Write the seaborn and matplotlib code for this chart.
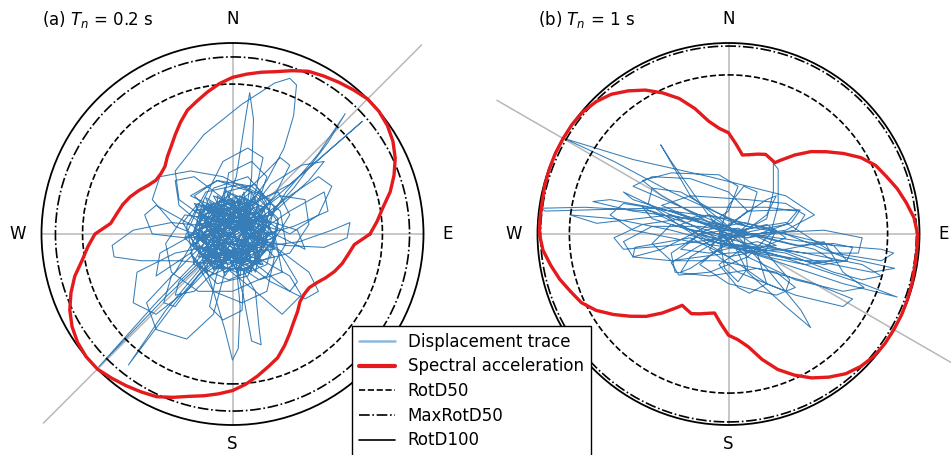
import numpy as np
import matplotlib
matplotlib.use("Agg")
import matplotlib.pyplot as plt
import seaborn as sns
from matplotlib.lines import Line2D
from matplotlib.patches import Circle

# spectral acceleration vs. rotation angle (deg from East, CCW), normalised by RotD100
# Sa(theta + 180) = Sa(theta), so only half a turn is listed
ang_a = [0, 5, 10, 15, 20, 25, 30, 35, 40, 45, 50, 55, 60, 65, 70, 75, 80, 85, 90, 95, 100, 105,
         110, 115, 120, 125, 130, 135, 140, 145, 150, 155, 160, 165, 170, 175]
sa_a = [0.72, 0.76, 0.80, 0.855, 0.90, 0.94, 0.97, 0.99, 1.00, 1.00, 0.985, 0.97, 0.955, 0.94,
        0.91, 0.88, 0.86, 0.84, 0.82, 0.79, 0.755, 0.72, 0.69, 0.645, 0.60, 0.56, 0.53, 0.50,
        0.49, 0.49, 0.51, 0.54, 0.57, 0.595, 0.615, 0.64]
ang_b = [0, 5, 10, 15, 20, 25, 30, 35, 40, 45, 50, 55, 57, 60, 65, 70, 75, 80, 85, 90, 95, 100,
         105, 110, 115, 120, 125, 130, 135, 140, 145, 150, 155, 160, 165, 170, 175]
sa_b = [0.99, 0.975, 0.945, 0.915, 0.88, 0.85, 0.80, 0.735, 0.67, 0.61, 0.54, 0.47, 0.445, 0.45,
        0.46, 0.445, 0.43, 0.42, 0.47, 0.53, 0.555, 0.60, 0.68, 0.755, 0.815, 0.87, 0.915, 0.955,
        0.98, 0.995, 1.0, 1.0, 1.0, 0.998, 0.995, 0.99, 0.99]

rotd50 = [0.785, 0.833]
maxrotd50 = [0.927, 0.984]
rotd100 = [1.0, 1.0]
theta100 = [45, 150]
titulos = ["(a) $T_n$ = 0.2 s", "(b) $T_n$ = 1 s"]

# displacement traces (normalised)
trace_a = [
    (0.00, 0.00), (0.15, 0.10), (0.18, -0.05), (0.05, -0.16), (-0.12, -0.10), (-0.18, 0.06), (-0.06, 0.18),
    (0.10, 0.15), (0.20, 0.02), (0.12, -0.14), (-0.04, -0.20), (-0.19, -0.08), (-0.16, 0.12), (0.00, 0.21),
    (0.16, 0.14), (0.22, -0.04), (0.08, -0.19), (-0.10, -0.17), (-0.21, 0.00), (-0.10, 0.16), (0.06, 0.12),
    (0.14, -0.02), (0.02, -0.10), (-0.08, 0.02), (0.00, 0.10),
    (0.30, 0.26), (0.68, 0.59), (0.35, 0.30), (0.00, 0.00), (-0.35, -0.33), (-0.70, -0.695), (-0.40, -0.36),
    (-0.10, -0.05),
    (0.12, 0.20), (0.24, 0.08), (0.18, -0.16), (-0.02, -0.24), (-0.20, -0.16), (-0.24, 0.04), (-0.14, 0.22),
    (0.04, 0.26), (0.20, 0.18), (0.10, 0.02),
    (-0.10, 0.05), (-0.28, 0.18), (-0.30, 0.33), (-0.15, 0.52), (0.05, 0.68), (0.22, 0.79), (0.30, 0.815),
    (0.335, 0.78), (0.32, 0.62), (0.27, 0.45), (0.18, 0.28), (0.05, 0.10),
    (-0.06, -0.06), (-0.14, 0.08), (-0.02, 0.14), (0.10, 0.06), (0.04, -0.06), (-0.10, -0.02),
    (0.02, 0.30), (0.07, 0.62), (0.09, 0.74), (0.11, 0.60), (0.10, 0.30), (0.06, 0.05),
    (-0.15, -0.12), (-0.25, -0.02), (-0.18, 0.14), (0.00, 0.18), (0.16, 0.06), (0.12, -0.12), (-0.06, -0.16),
    (-0.28, -0.14), (-0.48, -0.14), (-0.62, -0.12), (-0.63, -0.06), (-0.52, 0.02), (-0.32, 0.06), (-0.12, 0.04),
    (0.08, 0.16), (0.24, 0.22), (0.30, 0.10), (0.20, -0.06),
    (0.35, -0.04), (0.52, 0.02), (0.615, 0.06), (0.60, -0.02), (0.48, -0.07), (0.28, -0.06), (0.08, -0.02),
    (-0.08, 0.08), (-0.20, 0.20), (-0.08, 0.28), (0.10, 0.22), (0.18, 0.04), (0.06, -0.14), (-0.12, -0.22),
    (-0.22, -0.10),
    (-0.10, -0.30), (-0.04, -0.50), (0.00, -0.66), (0.03, -0.60), (0.04, -0.38), (0.02, -0.16),
    (0.14, -0.24), (0.26, -0.20), (0.22, 0.00), (0.08, 0.12), (-0.10, 0.10), (-0.16, -0.04), (-0.04, -0.12),
    (0.10, -0.08),
    (0.28, 0.22), (0.45, 0.42), (0.59, 0.63), (0.50, 0.48), (0.32, 0.24), (0.12, 0.02),
    (-0.04, 0.06), (-0.18, 0.16), (-0.26, 0.06), (-0.16, -0.12), (0.02, -0.20), (0.20, -0.12), (0.24, 0.06),
    (0.14, 0.20),
    (-0.05, 0.30), (-0.22, 0.33), (-0.38, 0.30), (-0.42, 0.18), (-0.30, 0.04), (-0.10, -0.04),
    (0.06, 0.04), (0.18, 0.16), (0.12, 0.26), (-0.04, 0.22), (-0.12, 0.06), (-0.02, -0.08), (0.16, -0.14),
    (0.30, -0.22), (0.36, -0.32), (0.26, -0.42), (0.12, -0.30), (0.00, -0.10),
    (-0.12, 0.00), (-0.20, -0.14), (-0.08, -0.26), (0.08, -0.22), (0.16, -0.04), (0.06, 0.10), (-0.10, 0.14),
    (-0.30, -0.20), (-0.45, -0.36), (-0.40, -0.50), (-0.24, -0.55), (-0.10, -0.42), (-0.04, -0.20),
    (0.10, -0.06), (0.20, 0.12), (0.04, 0.20), (-0.14, 0.14), (-0.22, -0.02), (-0.10, -0.18), (0.10, -0.18),
    (0.22, -0.02),
    (-0.10, -0.12), (-0.30, -0.36), (-0.545, -0.686), (-0.35, -0.40), (-0.10, -0.10),
    (0.06, 0.08), (0.20, 0.26), (0.36, 0.36), (0.48, 0.38), (0.40, 0.28), (0.20, 0.10),
    (0.00, 0.02), (-0.16, 0.10), (-0.10, 0.24), (0.08, 0.30), (0.22, 0.14), (0.16, -0.08), (-0.02, -0.16),
    (-0.18, -0.06),
    (0.12, -0.30), (0.14, -0.50), (0.15, -0.58), (0.10, -0.56), (0.06, -0.34), (0.00, -0.08),
    (0.30, 0.12), (0.48, 0.22), (0.50, 0.12), (0.32, 0.04), (0.10, -0.02),
    (-0.30, -0.10), (-0.50, -0.20), (-0.52, -0.36), (-0.40, -0.42), (-0.22, -0.28), (-0.05, -0.10),
    (-0.14, 0.04), (-0.04, 0.16), (0.12, 0.10), (0.08, -0.04), (-0.06, 0.00), (0.00, 0.08), (0.08, 0.00),
    (0.05, 0.05), (0.25, 0.20), (0.38, 0.18), (0.40, 0.05), (0.30, -0.10), (0.10, -0.15), (-0.10, -0.10),
    (-0.20, 0.02),
    (-0.15, 0.18), (-0.05, 0.38), (0.08, 0.45), (0.16, 0.40), (0.12, 0.22), (0.02, 0.02), (-0.08, -0.20),
    (-0.12, -0.38), (-0.05, -0.45), (0.05, -0.40), (0.06, -0.20),
    (0.20, -0.05), (0.40, -0.20), (0.45, -0.30), (0.38, -0.34), (0.20, -0.25), (0.00, -0.10), (-0.22, 0.05),
    (-0.40, 0.15), (-0.46, 0.10), (-0.42, 0.00), (-0.25, -0.02),
    (-0.05, 0.10), (0.15, 0.30), (0.25, 0.40), (0.30, 0.36), (0.22, 0.20), (0.05, 0.00), (-0.18, -0.22),
    (-0.30, -0.38), (-0.36, -0.36), (-0.32, -0.22), (-0.15, -0.05),
    (0.00, 0.15), (-0.20, 0.30), (-0.30, 0.28), (-0.28, 0.15), (-0.10, 0.00), (0.15, -0.18), (0.30, -0.30),
    (0.34, -0.25), (0.25, -0.10), (0.08, 0.05),
    (-0.25, 0.10), (-0.35, -0.05), (-0.32, -0.20), (-0.18, -0.30), (0.00, -0.30), (0.18, -0.22),
    (0.28, -0.05), (0.25, 0.12), (0.10, 0.25), (-0.08, 0.28), (-0.22, 0.20),
    (-0.05, 0.12), (0.08, 0.14), (0.15, 0.04), (0.12, -0.08), (0.00, -0.14), (-0.12, -0.10), (-0.16, 0.02),
    (-0.10, 0.12), (0.02, 0.08), (0.08, -0.02), (0.00, -0.06), (-0.06, 0.02),
    (0.20, 0.10), (-0.18, -0.02), (0.10, -0.18), (0.02, 0.20), (-0.12, -0.16), (0.18, -0.04), (-0.20, 0.12),
    (0.06, 0.18), (0.14, -0.14), (-0.16, -0.14), (-0.02, 0.22), (0.22, 0.04),
    (0.30, 0.00), (0.45, 0.10), (0.52, 0.25), (0.45, 0.30), (0.30, 0.20), (0.10, 0.05), (-0.10, -0.08),
    (-0.28, -0.25), (-0.30, -0.32), (-0.20, -0.30), (-0.05, -0.15),
    (0.10, 0.00), (0.22, -0.12), (0.18, -0.30), (0.05, -0.36), (-0.10, -0.30), (-0.15, -0.15), (-0.05, 0.00),
    (0.12, 0.12), (0.18, 0.30), (0.10, 0.38), (-0.02, 0.32), (-0.05, 0.15),
    (-0.22, -0.10), (-0.40, -0.22), (-0.38, -0.10), (-0.20, 0.00), (0.00, 0.04), (0.22, 0.00), (0.38, -0.08),
    (0.34, 0.02), (0.15, 0.08),
    (-0.10, 0.20), (0.12, -0.20), (0.20, 0.16), (-0.22, -0.06), (0.16, -0.16), (-0.04, 0.24), (-0.14, -0.20),
    (0.24, 0.02), (-0.20, 0.16), (0.04, -0.22), (0.10, 0.22), (-0.24, -0.02), (0.00, 0.00),
    (-0.18, 0.05), (0.16, 0.12), (-0.02, -0.19), (-0.12, 0.17), (0.19, -0.06), (-0.15, -0.13), (0.07, 0.19),
    (0.12, -0.15), (-0.20, -0.02), (0.14, 0.15), (-0.06, -0.18), (-0.08, 0.20), (0.20, 0.00), (-0.13, -0.14),
    (0.04, 0.18), (0.16, -0.10), (-0.19, 0.09), (0.10, 0.17), (0.03, -0.20), (-0.17, 0.13), (0.18, 0.06),
    (-0.10, -0.19), (-0.04, 0.16), (0.15, -0.16), (-0.21, -0.06), (0.12, 0.19), (0.00, -0.17), (-0.14, 0.19),
    (0.21, -0.02), (-0.08, -0.15), (0.06, 0.22), (0.10, -0.20), (-0.20, 0.02), (0.17, 0.10), (-0.04, -0.22),
    (-0.16, 0.16), (0.22, -0.08), (-0.18, -0.12), (0.02, 0.14), (0.08, -0.12), (-0.12, 0.08), (0.12, 0.06),
    (-0.06, -0.08), (0.00, 0.18), (0.14, -0.06), (-0.16, -0.04), (-0.02, 0.08), (0.06, -0.16), (-0.10, 0.14),
    (0.16, 0.02),
]

trace_b = [
    (0.00, 0.00), (0.20, 0.05), (0.30, -0.02), (0.15, -0.08), (-0.10, -0.04), (-0.25, 0.05), (-0.10, 0.10),
    (0.10, 0.04),
    (-0.30, 0.22), (-0.60, 0.38), (-0.86, 0.50), (-0.50, 0.39), (-0.10, 0.30), (0.30, 0.20), (0.45, 0.10),
    (0.30, 0.02), (0.00, -0.02),
    (-0.40, 0.12), (-0.75, 0.14), (-0.98, 0.135), (-0.96, 0.12), (-0.60, 0.13), (-0.20, 0.14), (0.20, 0.14),
    (0.36, 0.12), (0.30, 0.05), (0.05, 0.00),
    (-0.20, 0.20), (-0.355, 0.467), (-0.30, 0.38), (-0.12, 0.12), (0.02, -0.06), (0.20, -0.12), (0.40, -0.16),
    (0.55, -0.14), (0.45, -0.08), (0.20, -0.02),
    (-0.10, 0.06), (-0.35, 0.20), (-0.45, 0.28), (-0.30, 0.32), (-0.05, 0.31), (0.05, 0.25), (0.00, 0.12),
    (-0.15, 0.02),
    (-0.35, -0.08), (-0.50, -0.12), (-0.55, -0.04), (-0.40, 0.04), (-0.15, 0.04), (0.10, 0.00), (0.35, -0.06),
    (0.55, -0.05), (0.65, -0.07), (0.62, -0.14), (0.40, -0.14), (0.15, -0.10), (-0.05, -0.05),
    (0.20, 0.08), (0.235, 0.22), (0.235, 0.37), (0.26, 0.34), (0.26, 0.15), (0.22, 0.00), (0.10, -0.12),
    (-0.10, -0.20), (-0.26, -0.215), (-0.30, -0.15), (-0.15, -0.06), (0.05, 0.02), (0.30, 0.06),
    (0.55, -0.10), (0.80, -0.14), (0.865, -0.10), (0.80, -0.08), (0.55, -0.06), (0.25, -0.02), (0.00, 0.02),
    (-0.30, 0.10), (-0.69, 0.056), (-0.83, 0.10), (-0.60, 0.08), (-0.30, 0.02), (0.00, -0.06), (0.30, -0.16),
    (0.60, -0.26), (0.883, -0.33), (0.70, -0.26), (0.40, -0.16), (0.10, -0.06),
    (-0.05, -0.16), (0.05, -0.28), (0.11, -0.31), (0.20, -0.26), (0.15, -0.10), (0.00, 0.00),
    (0.10, -0.20), (0.30, -0.38), (0.43, -0.49), (0.38, -0.40), (0.20, -0.18), (0.02, 0.02),
    (-0.20, 0.08), (-0.50, 0.12), (-0.71, 0.17), (-0.62, 0.18), (-0.30, 0.12), (0.00, 0.08), (0.30, 0.00),
    (0.60, -0.12), (0.87, -0.18), (0.75, -0.20), (0.45, -0.14), (0.15, -0.04),
    (-0.10, -0.10), (-0.25, -0.08), (-0.12, 0.02), (0.08, 0.06), (0.25, 0.02), (0.20, -0.08), (0.00, -0.12),
    (-0.20, -0.02), (-0.49, -0.07), (-0.50, -0.12), (-0.30, -0.14), (0.00, -0.10), (0.30, -0.08), (0.50, -0.04),
    (0.60, -0.20), (0.71, -0.28), (0.60, -0.30), (0.35, -0.24), (0.10, -0.12), (-0.05, 0.00),
    (0.10, 0.12), (0.30, 0.126), (0.375, 0.126), (0.33, 0.06), (0.10, -0.02),
    (0.00, 0.00), (-0.30, 0.12), (-0.55, 0.16), (-0.62, 0.10), (-0.50, 0.02), (-0.20, -0.04), (0.20, -0.10),
    (0.50, -0.16), (0.62, -0.14), (0.55, -0.06), (0.30, 0.00),
    (0.05, 0.05), (-0.25, 0.22), (-0.40, 0.24), (-0.42, 0.16), (-0.25, 0.04), (0.00, -0.12), (0.20, -0.26),
    (0.30, -0.30), (0.32, -0.24), (0.20, -0.10),
    (-0.10, 0.10), (-0.45, 0.05), (-0.60, -0.02), (-0.55, -0.08), (-0.30, -0.06), (0.10, 0.00), (0.50, 0.02),
    (0.70, -0.02), (0.68, -0.10), (0.40, -0.10), (0.00, -0.05),
    (-0.15, 0.00), (-0.30, -0.10), (-0.28, -0.20), (-0.10, -0.22), (0.15, -0.18), (0.45, -0.26),
    (0.65, -0.34), (0.60, -0.38), (0.35, -0.32), (0.05, -0.20), (-0.10, -0.08),
    (0.00, 0.05), (0.20, 0.18), (0.25, 0.20), (0.20, 0.10), (0.00, -0.05), (-0.20, -0.18), (-0.25, -0.20),
    (-0.20, -0.12), (0.00, 0.00),
    (-0.35, 0.15), (-0.20, 0.20), (0.10, 0.18), (0.30, 0.16), (0.40, 0.10), (0.35, 0.02), (0.10, -0.02),
    (-0.20, 0.02), (-0.40, 0.08), (-0.45, 0.14),
    (-0.05, -0.05), (0.30, -0.10), (0.55, -0.20), (0.70, -0.24), (0.80, -0.22), (0.70, -0.16), (0.40, -0.10),
    (0.10, -0.05),
    (-0.30, 0.05), (-0.40, -0.05), (-0.30, -0.14), (-0.05, -0.14), (0.25, -0.20), (0.35, -0.28),
    (0.25, -0.32), (0.00, -0.26), (-0.15, -0.16),
    (0.10, 0.05), (0.15, 0.22), (0.08, 0.25), (0.00, 0.15), (-0.05, 0.00), (-0.02, -0.18), (0.05, -0.25),
    (0.10, -0.18), (0.08, 0.00),
    (-0.50, 0.25), (-0.40, 0.30), (-0.20, 0.29), (0.00, 0.22), (0.10, 0.12), (0.00, 0.04), (-0.25, 0.10),
    (-0.50, 0.18), (-0.55, 0.22),
    (-0.20, 0.05), (0.05, -0.08), (0.25, -0.06), (0.05, 0.03), (-0.15, 0.00), (0.00, -0.04),
]

AZUL = "#377eb8"
VERMELHO = "#e41a1c"
CINZA = "#b8b8b8"
FS = 12

sns.set_style("white")
plt.rcParams["font.family"] = ["DejaVu Sans"]
plt.rcParams["text.color"] = "black"

W, H = 951, 455
fig = plt.figure(figsize=(W / 100, H / 100), dpi=100)


def criar_eixo(x0, x1, cx, cy, s):
    # eixo em pixels -> unidades normalizadas (escala igual em x e y)
    ax = fig.add_axes([x0 / W, 0, (x1 - x0) / W, 1])
    ax.set_xlim((x0 - cx) / s, (x1 - cx) / s)
    ax.set_ylim((cy - H) / s, cy / s)
    ax.axis("off")
    return ax


eixos = [criar_eixo(0, 476, 232.5, 234, 191), criar_eixo(476, 951, 728.5, 234, 191)]
angulos = [ang_a, ang_b]
valores = [sa_a, sa_b]
tracos = [trace_a, trace_b]

for k, ax in enumerate(eixos):
    R = rotd100[k]
    # eixos cardeais e direcao do RotD100
    ax.plot([-R, R], [0, 0], color=CINZA, lw=1.1, zorder=1)
    ax.plot([0, 0], [-R, R], color=CINZA, lw=1.1, zorder=1)
    t = np.deg2rad(theta100[k])
    ax.plot([-1.4 * R * np.cos(t), 1.4 * R * np.cos(t)],
            [-1.4 * R * np.sin(t), 1.4 * R * np.sin(t)], color=CINZA, lw=1.1, zorder=1)

    tr = np.array(tracos[k])
    sns.lineplot(x=tr[:, 0], y=tr[:, 1], sort=False, estimator=None, color=AZUL,
                 lw=0.75, ax=ax, legend=False, zorder=2)

    ax.add_patch(Circle((0, 0), rotd50[k], fill=False, ls="--", lw=1.2, ec="black", zorder=3))
    ax.add_patch(Circle((0, 0), maxrotd50[k], fill=False, ls="-.", lw=1.2, ec="black", zorder=3))
    ax.add_patch(Circle((0, 0), rotd100[k], fill=False, ls="-", lw=1.3, ec="black", zorder=3))

    ang = np.array(angulos[k], dtype=float)
    th = np.deg2rad(np.r_[ang, ang + 180, ang[0] + 360])
    r = np.r_[valores[k], valores[k], valores[k][0]]
    sns.lineplot(x=r * np.cos(th), y=r * np.sin(th), sort=False, estimator=None,
                 color=VERMELHO, lw=2.4, ax=ax, legend=False, zorder=4)

    ax.text(0, 1.125, "N", ha="center", va="center", fontsize=FS)
    ax.text(0, -1.10, "S", ha="center", va="center", fontsize=FS)
    ax.text(-1.125, 0, "W", ha="center", va="center", fontsize=FS)
    ax.text(1.125, 0, "E", ha="center", va="center", fontsize=FS)
    ax.text(-1.0, 1.125, titulos[k], ha="left", va="center", fontsize=FS)

handles = [
    Line2D([], [], color="#8fb8de", lw=1.8),
    Line2D([], [], color=VERMELHO, lw=3.0),
    Line2D([], [], color="black", ls="--", lw=1.2),
    Line2D([], [], color="black", ls="-.", lw=1.2),
    Line2D([], [], color="black", ls="-", lw=1.2),
]
labels = ["Displacement trace", "Spectral acceleration", "RotD50", "MaxRotD50", "RotD100"]
leg = fig.legend(handles, labels, loc="upper left", bbox_to_anchor=(352 / W, 1 - 326 / H),
                 borderaxespad=0, fontsize=FS, fancybox=False, framealpha=1,
                 edgecolor="black", handlelength=2.15, labelspacing=0.4)
leg.get_frame().set_linewidth(1.0)

fig.savefig("out.png", dpi=100)
